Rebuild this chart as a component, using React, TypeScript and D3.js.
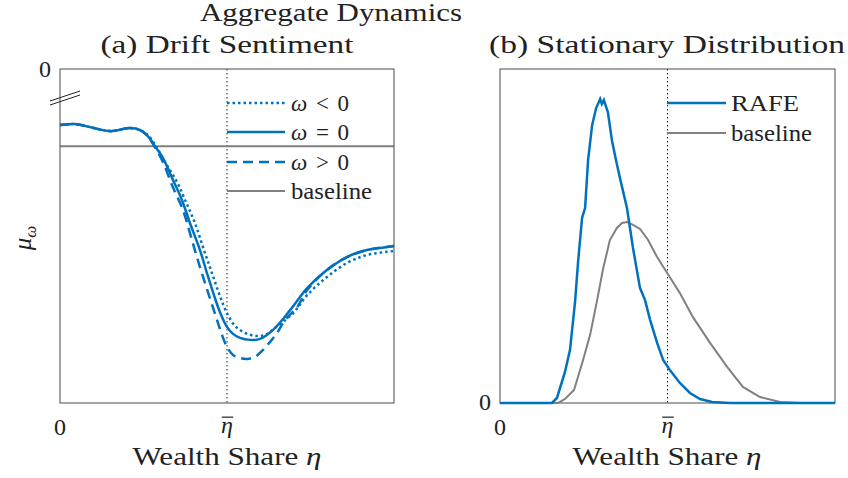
import React from "react";
import * as d3 from "d3";

// ---------- data ----------
// Panel (a): drift sentiment, x = wealth share (eta_bar = 0.5), y relative (0 at top)
const driftX_neg = [0, 0.045, 0.09, 0.15, 0.21, 0.24, 0.263, 0.287, 0.314, 0.35, 0.377, 0.404, 0.431, 0.455, 0.479, 0.5, 0.524, 0.554, 0.584, 0.614, 0.644, 0.698, 0.74, 0.799, 0.859, 0.919, 1.0];
const driftY_neg = [-0.168, -0.165, -0.174, -0.186, -0.177, -0.183, -0.198, -0.231, -0.278, -0.338, -0.398, -0.461, -0.542, -0.611, -0.68, -0.731, -0.769, -0.79, -0.799, -0.796, -0.775, -0.731, -0.677, -0.623, -0.581, -0.557, -0.545];

const driftX_zero = [0, 0.045, 0.09, 0.15, 0.21, 0.24, 0.263, 0.284, 0.308, 0.338, 0.365, 0.389, 0.419, 0.44, 0.461, 0.479, 0.5, 0.518, 0.539, 0.569, 0.599, 0.638, 0.689, 0.74, 0.799, 0.859, 0.919, 0.958, 1.0];
const driftY_zero = [-0.168, -0.165, -0.174, -0.186, -0.177, -0.183, -0.201, -0.231, -0.266, -0.332, -0.392, -0.461, -0.542, -0.611, -0.677, -0.728, -0.772, -0.793, -0.805, -0.811, -0.808, -0.781, -0.722, -0.656, -0.602, -0.563, -0.542, -0.536, -0.53];

const driftX_pos = [0, 0.045, 0.09, 0.15, 0.21, 0.24, 0.263, 0.284, 0.308, 0.335, 0.368, 0.395, 0.419, 0.443, 0.47, 0.485, 0.5, 0.518, 0.539, 0.56, 0.584, 0.608, 0.629, 0.65, 0.674, 0.71, 0.74, 0.799, 0.859, 0.919, 1.0];
const driftY_pos = [-0.168, -0.165, -0.174, -0.186, -0.177, -0.183, -0.201, -0.234, -0.278, -0.347, -0.422, -0.512, -0.593, -0.668, -0.751, -0.796, -0.832, -0.856, -0.865, -0.868, -0.862, -0.841, -0.817, -0.79, -0.751, -0.713, -0.662, -0.602, -0.563, -0.542, -0.53];

const driftBaseline = -0.231;

// Panel (b): stationary distribution
const rafeX = [0, 0.155, 0.17, 0.194, 0.209, 0.224, 0.233, 0.245, 0.254, 0.263, 0.275, 0.287, 0.299, 0.304, 0.31, 0.322, 0.334, 0.346, 0.358, 0.379, 0.397, 0.418, 0.433, 0.448, 0.469, 0.487, 0.507, 0.537, 0.567, 0.597, 0.633, 0.687, 1.0];
const rafeY = [0, 0, 0.015, 0.093, 0.159, 0.302, 0.422, 0.554, 0.584, 0.728, 0.832, 0.883, 0.91, 0.895, 0.907, 0.871, 0.787, 0.728, 0.674, 0.584, 0.464, 0.344, 0.308, 0.249, 0.18, 0.129, 0.099, 0.06, 0.03, 0.012, 0.003, 0, 0];

const baseX = [0, 0.173, 0.194, 0.221, 0.248, 0.269, 0.29, 0.307, 0.328, 0.349, 0.364, 0.379, 0.397, 0.418, 0.442, 0.469, 0.499, 0.537, 0.576, 0.627, 0.678, 0.725, 0.776, 0.836, 0.896, 1.0];
const baseY = [0, 0, 0.012, 0.039, 0.129, 0.204, 0.308, 0.398, 0.488, 0.524, 0.539, 0.542, 0.533, 0.521, 0.488, 0.437, 0.389, 0.329, 0.257, 0.18, 0.108, 0.048, 0.018, 0.003, 0, 0];

const etaBar = 0.5;
const legendA = ["ω < 0", "ω = 0", "ω > 0", "baseline"];
const legendB = ["RAFE", "baseline"];

// ---------- style ----------
const BLUE = "#0072BD";
const GRAY = "#808080";
const AXIS = "#4a4a4a";
const FONT = "'Liberation Serif', 'Times New Roman', serif";

type Pt = [number, number];
const zip = (xs: number[], ys: number[]): Pt[] => xs.map((x, i) => [x, ys[i]]);

const EtaBar = ({ x, y, size }: { x: number; y: number; size: number }) => (
  <g>
    <text x={x} y={y} fontSize={size} fontStyle="italic" textAnchor="middle" fontFamily={FONT} fill="#222">η</text>
    <line x1={x - size * 0.22} x2={x + size * 0.26} y1={y - size * 0.66} y2={y - size * 0.66} stroke="#222" strokeWidth={1.2} />
  </g>
);

export default function App() {
  const W = 848, H = 478;
  // panel geometry
  const A = { l: 60, r: 394, t: 69, b: 403 };
  const B = { l: 500, r: 835, t: 69, b: 403 };

  const xa = d3.scaleLinear().domain([0, 1]).range([A.l, A.r]);
  const ya = d3.scaleLinear().domain([-1, 0]).range([A.b, A.t]);
  const xb = d3.scaleLinear().domain([0, 1]).range([B.l, B.r]);
  const yb = d3.scaleLinear().domain([0, 1]).range([B.b, B.t]);

  const lineA = d3.line<Pt>().x(d => xa(d[0])).y(d => ya(d[1])).curve(d3.curveCatmullRom.alpha(0.5));
  const lineB = d3.line<Pt>().x(d => xb(d[0])).y(d => yb(d[1])).curve(d3.curveLinear);

  const fsTick = 24, fsLab = 25, fsTitle = 25, fsLeg = 23;

  const legAy = [103, 132, 162, 191];
  const legBy = [103, 133];

  return (
    <svg width={W} height={H} style={{ position: "absolute", left: 0, top: 0, background: "#fff" }} fontFamily={FONT}>
      <rect width={W} height={H} fill="#fff" />
      {/* super title */}
      <text x={331} y={21} fontSize={fsTitle} textAnchor="middle" fill="#222" textLength={262} lengthAdjust="spacingAndGlyphs">Aggregate Dynamics</text>
      <text x={227} y={53} fontSize={fsTitle} textAnchor="middle" fill="#222" textLength={253} lengthAdjust="spacingAndGlyphs">(a) Drift Sentiment</text>
      <text x={667} y={53} fontSize={fsTitle} textAnchor="middle" fill="#222" textLength={356} lengthAdjust="spacingAndGlyphs">(b) Stationary Distribution</text>

      {/* ---------- panel A ---------- */}
      <g>
        <clipPath id="clipA"><rect x={A.l} y={A.t} width={A.r - A.l} height={A.b - A.t} /></clipPath>
        <line x1={xa(etaBar)} x2={xa(etaBar)} y1={A.t} y2={A.b} stroke="#222" strokeWidth={1} strokeDasharray="1.5 2.5" />
        <g clipPath="url(#clipA)">
          <line x1={A.l} x2={A.r} y1={ya(driftBaseline)} y2={ya(driftBaseline)} stroke={GRAY} strokeWidth={2} />
          <path d={lineA(zip(driftX_pos, driftY_pos)) || ""} fill="none" stroke={BLUE} strokeWidth={2.5} strokeDasharray="10 6" />
          <path d={lineA(zip(driftX_neg, driftY_neg)) || ""} fill="none" stroke={BLUE} strokeWidth={2.5} strokeDasharray="2.5 3" />
          <path d={lineA(zip(driftX_zero, driftY_zero)) || ""} fill="none" stroke={BLUE} strokeWidth={2.5} />
        </g>
        <rect x={A.l} y={A.t} width={A.r - A.l} height={A.b - A.t} fill="none" stroke={AXIS} strokeWidth={1} />
        {/* axis break marks */}
        <line x1={50} y1={101} x2={80} y2={91} stroke="#222" strokeWidth={1} />
        <line x1={50} y1={105} x2={80} y2={95} stroke="#222" strokeWidth={1} />
        {/* ticks */}
        <text x={45} y={77} fontSize={fsTick} textAnchor="middle" fill="#222">0</text>
        <text x={xa(0)} y={435} fontSize={fsTick} textAnchor="middle" fill="#222">0</text>
        <EtaBar x={xa(etaBar)} y={433} size={fsTick} />
        {/* labels */}
        <text x={227} y={465} fontSize={fsLab} textAnchor="middle" fill="#222" textLength={189} lengthAdjust="spacingAndGlyphs">Wealth Share <tspan fontStyle="italic">η</tspan></text>
        <text transform="translate(31,238) rotate(-90)" fontSize={fsLab} textAnchor="middle" fill="#222" fontStyle="italic">μ<tspan fontSize={17} dy={5}>ω</tspan></text>
        {/* legend */}
        {legendA.map((lab, i) => {
          const y = legAy[i];
          const dash = i === 0 ? "2.5 3" : i === 2 ? "10 6" : undefined;
          const col = i === 3 ? GRAY : BLUE;
          return (
            <g key={lab}>
              <line x1={227} x2={285} y1={y} y2={y} stroke={col} strokeWidth={i === 3 ? 2 : 2.5} strokeDasharray={dash} />
              {i < 3 ? (
                <text x={291} y={y + 8} fontSize={fsLeg} fill="#222" textLength={58} lengthAdjust="spacing">
                  <tspan fontStyle="italic">ω</tspan>
                  <tspan>{lab.slice(1)}</tspan>
                </text>
              ) : (
                <text x={291} y={y + 8} fontSize={fsLeg} fill="#222" textLength={81} lengthAdjust="spacingAndGlyphs">{lab}</text>
              )}
            </g>
          );
        })}
      </g>

      {/* ---------- panel B ---------- */}
      <g>
        <clipPath id="clipB"><rect x={B.l} y={B.t - 2} width={B.r - B.l} height={B.b - B.t + 4} /></clipPath>
        <line x1={xb(etaBar)} x2={xb(etaBar)} y1={B.t} y2={B.b} stroke="#222" strokeWidth={1} strokeDasharray="1.5 2.5" />
        <rect x={B.l} y={B.t} width={B.r - B.l} height={B.b - B.t} fill="none" stroke={AXIS} strokeWidth={1} />
        <g clipPath="url(#clipB)">
          <path d={lineB(zip(baseX, baseY)) || ""} fill="none" stroke={GRAY} strokeWidth={2} />
          <path d={lineB(zip(rafeX, rafeY)) || ""} fill="none" stroke={BLUE} strokeWidth={2.5} />
        </g>
        <text x={485} y={410} fontSize={fsTick} textAnchor="middle" fill="#222">0</text>
        <text x={xb(0)} y={435} fontSize={fsTick} textAnchor="middle" fill="#222">0</text>
        <EtaBar x={xb(etaBar)} y={433} size={fsTick} />
        <text x={667} y={465} fontSize={fsLab} textAnchor="middle" fill="#222" textLength={189} lengthAdjust="spacingAndGlyphs">Wealth Share <tspan fontStyle="italic">η</tspan></text>
        {legendB.map((lab, i) => {
          const y = legBy[i];
          return (
            <g key={lab}>
              <line x1={667} x2={726} y1={y} y2={y} stroke={i === 0 ? BLUE : GRAY} strokeWidth={i === 0 ? 2.5 : 2} />
              <text x={731} y={y + 8} fontSize={fsLeg} fill="#222" textLength={i === 0 ? 68 : 81} lengthAdjust="spacingAndGlyphs">{lab}</text>
            </g>
          );
        })}
      </g>
    </svg>
  );
}
